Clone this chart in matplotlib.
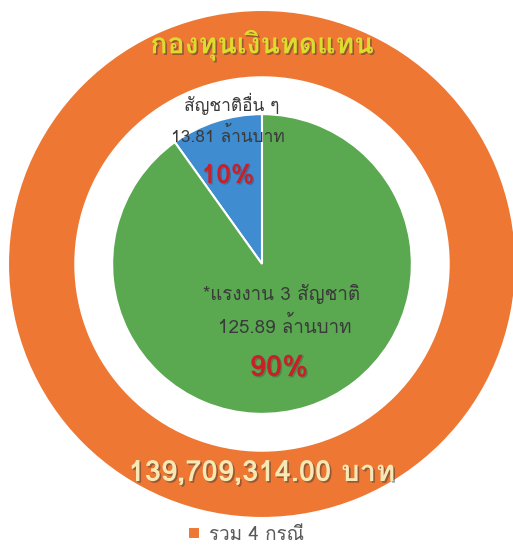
import matplotlib
matplotlib.use("Agg")
import matplotlib.pyplot as plt
import matplotlib.patheffects as pe
from matplotlib import font_manager
from matplotlib.ft2font import FT2Font

# find an installed family that has Thai glyphs
thai_family = None
for f in font_manager.fontManager.ttflist:
    try:
        if 0x0E01 in FT2Font(f.fname).get_charmap():
            thai_family = f.name
            break
    except Exception:
        pass
fams = [thai_family, 'DejaVu Sans'] if thai_family else ['DejaVu Sans']
plt.rcParams['font.family'] = fams

outer_labels = ['รวม 4 กรณี']
outer_values = [139709314.00]

inner_labels = ['สัญชาติอื่น ๆ', '*แรงงาน 3 สัญชาติ']
inner_values = [13.81, 125.89]
inner_pct = ['10%', '90%']

orange = '#ED7733'
inner_colors = ['#3F8CD0', '#5AA951']

fig = plt.figure(figsize=(5.13, 5.56), dpi=100)
ax = fig.add_axes([0, 0, 1, 1])
R = 254.0
cx, cy = 262.0, 264.0

w_out, _ = ax.pie(outer_values, radius=1.0, colors=[orange], startangle=90,
                  wedgeprops=dict(width=0.265, edgecolor='white', linewidth=1.5))
ax.pie(inner_values, radius=0.59, colors=inner_colors, startangle=90,
       wedgeprops=dict(edgecolor='white', linewidth=1.5))

ax.set_xlim(-cx / R, (513 - cx) / R)
ax.set_ylim(-(556 - cy) / R, cy / R)
ax.set_aspect('equal')
ax.axis('off')

def pos(px, py):
    return (px - cx) / R, (cy - py) / R

shadow = [pe.SimplePatchShadow(offset=(1.2, -1.2), shadow_rgbFace='#333333', alpha=0.45), pe.Normal()]
soft = [pe.SimplePatchShadow(offset=(1, -1), shadow_rgbFace='#333333', alpha=0.3), pe.Normal()]

ax.text(*pos(262, 45), 'กองทุนเงินทดแทน', ha='center', va='center', fontsize=20.5,
        fontweight='bold', color='#DCDC2E', path_effects=shadow)
ax.text(*pos(262, 473), '{:,.2f} บาท'.format(outer_values[0]), ha='center', va='center',
        fontsize=21, fontweight='bold', color='#F7E9B6', path_effects=shadow)

ax.text(*pos(232, 104), inner_labels[0], ha='center', va='center', fontsize=12.5, color='#3A3A3A')
ax.text(*pos(228, 136), '{:.2f} ล้านบาท'.format(inner_values[0]), ha='center', va='center',
        fontsize=12.5, color='#3A3A3A')
ax.text(*pos(228, 176), inner_pct[0], ha='center', va='center', fontsize=19,
        fontweight='bold', color='#C8202A', path_effects=soft)

ax.text(*pos(282, 294), inner_labels[1], ha='center', va='center', fontsize=13.5, color='#3A3A3A')
ax.text(*pos(285, 326), '{:.2f} ล้านบาท'.format(inner_values[1]), ha='center', va='center',
        fontsize=13.5, color='#3A3A3A')
ax.text(*pos(279, 368), inner_pct[1], ha='center', va='center', fontsize=21,
        fontweight='bold', color='#C8202A', path_effects=soft)

ax.legend([w_out[0]], outer_labels, loc='lower center', bbox_to_anchor=(0.48, 0.0),
          frameon=False, fontsize=13.5, handlelength=0.6, handleheight=0.6,
          handletextpad=0.5, borderpad=0.15, labelcolor='#595959')

fig.savefig('out.png', dpi=100)
